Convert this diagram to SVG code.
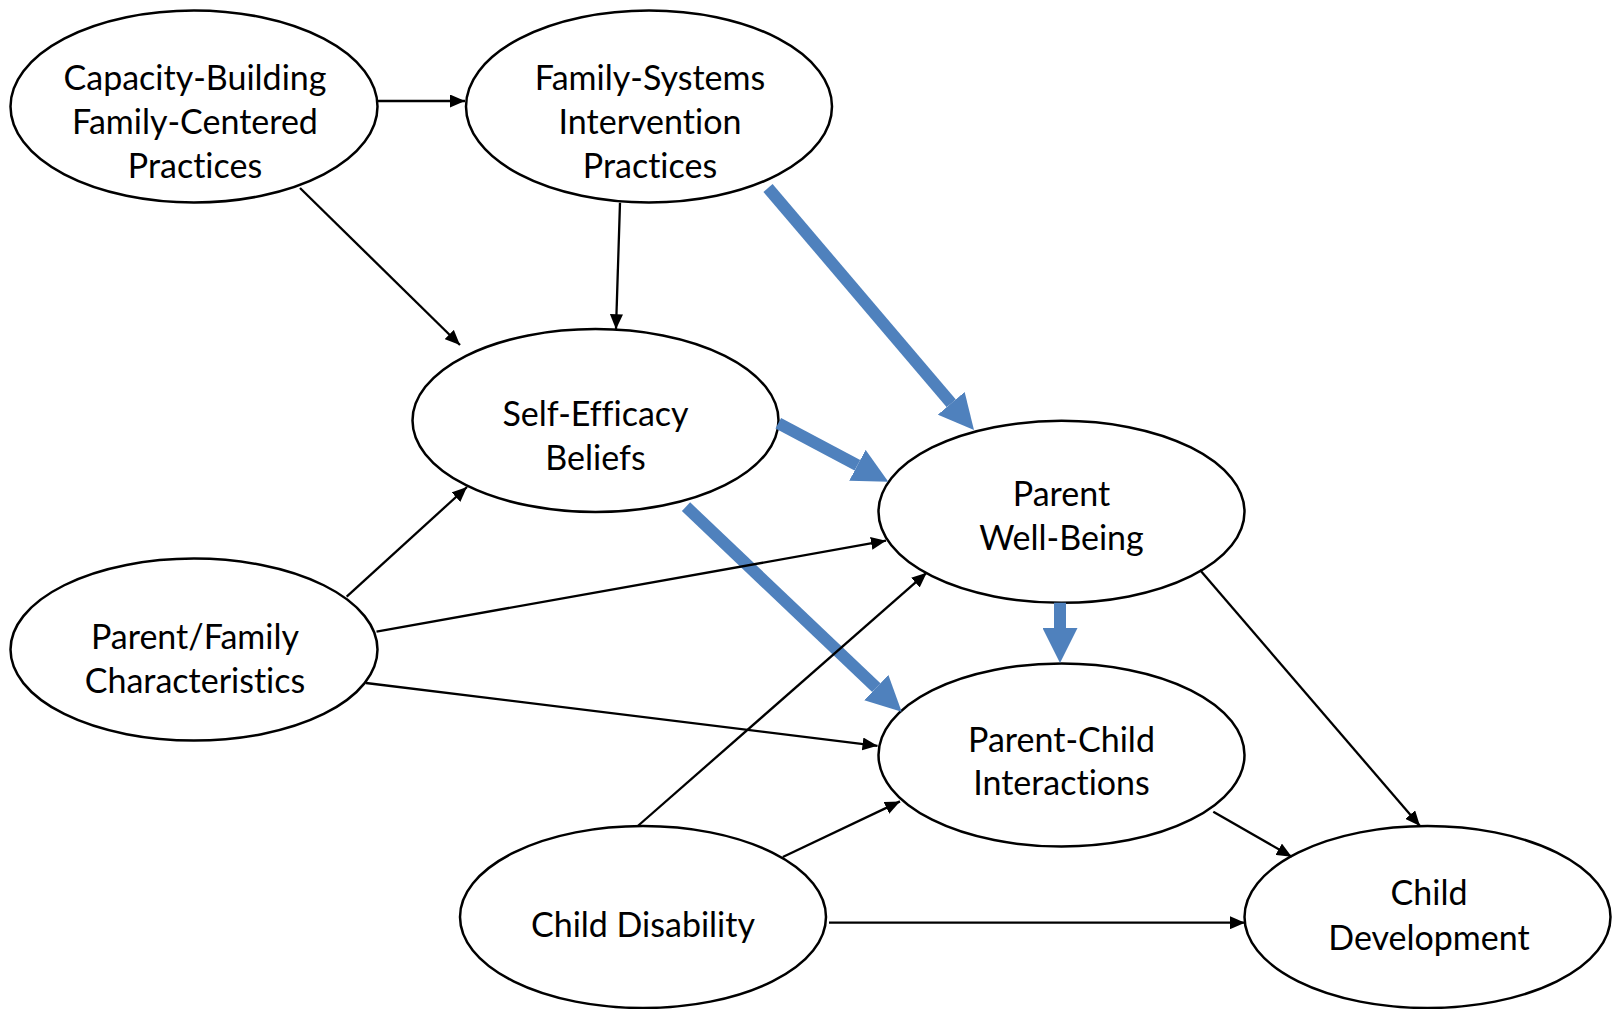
<svg xmlns="http://www.w3.org/2000/svg" width="1613" height="1009" viewBox="0 0 1613 1009">
<style>
.node ellipse{fill:#fff;stroke:#000;stroke-width:2.5}
.node text{font-family:Lato,"Liberation Sans",sans-serif;font-size:34px;fill:#000;text-anchor:middle;font-variant-ligatures:none}
.thin{stroke:#000;stroke-width:2.3;fill:none;marker-end:url(#ah)}
.thick{stroke:#4F81BD;stroke-width:12;fill:none;marker-end:url(#bh)}
</style>
<defs>
<marker id="ah" markerUnits="userSpaceOnUse" viewBox="0 0 15 13" markerWidth="15" markerHeight="13" refX="15" refY="6.5" orient="auto"><path d="M0,0 L15,6.5 L0,13 z" fill="#000"/></marker>
<marker id="bh" markerUnits="userSpaceOnUse" viewBox="0 0 35 35" markerWidth="35" markerHeight="35" refX="0" refY="17.5" orient="auto"><path d="M0,0 L35,17.5 L0,35 z" fill="#4F81BD"/></marker>
</defs>
<rect width="1613" height="1009" fill="#fff"/>
<g id="n-capacity" class="node"><ellipse cx="194" cy="106.5" rx="183.5" ry="96"/><text x="195" y="89.5">Capacity-Building</text><text x="195" y="133.5">Family-Centered</text><text x="195" y="177.5">Practices</text></g>
<g id="n-family-systems" class="node"><ellipse cx="649" cy="106.5" rx="183" ry="96"/><text x="650" y="89.5">Family-Systems</text><text x="650" y="133.5">Intervention</text><text x="650" y="177.5">Practices</text></g>
<g id="n-self-efficacy" class="node"><ellipse cx="595.5" cy="420.5" rx="183" ry="91.5"/><text x="595.5" y="425.5">Self-Efficacy</text><text x="595.5" y="469.5">Beliefs</text></g>
<g id="n-parent-wellbeing" class="node"><ellipse cx="1061.5" cy="511.8" rx="183" ry="91"/><text x="1061.5" y="505.5">Parent</text><text x="1061.5" y="549.5">Well-Being</text></g>
<g id="n-parent-family" class="node"><ellipse cx="194" cy="649.6" rx="183.5" ry="91"/><text x="195" y="648.5">Parent/Family</text><text x="195" y="693">Characteristics</text></g>
<g id="n-parent-child" class="node"><ellipse cx="1061.5" cy="755" rx="183" ry="91.5"/><text x="1061.5" y="751.5">Parent-Child</text><text x="1061.5" y="795">Interactions</text></g>
<g id="n-child-disability" class="node"><ellipse cx="643" cy="917" rx="183" ry="91"/><text x="643" y="936.5">Child Disability</text></g>
<g id="n-child-development" class="node"><ellipse cx="1427.5" cy="917" rx="183" ry="91"/><text x="1429" y="904.5">Child</text><text x="1429" y="949.5">Development</text></g>
<g id="connectors">
<line class="thick" x1="768" y1="188" x2="951.3" y2="403.3"/>
<line class="thick" x1="778.3" y1="423.3" x2="857.4" y2="465.3"/>
<line class="thick" x1="686" y1="506.7" x2="876.3" y2="687.6"/>
<line class="thick" x1="1060" y1="602.7" x2="1060" y2="628"/>
<line class="thin" x1="377.5" y1="101" x2="465" y2="101"/>
<line class="thin" x1="300" y1="188" x2="460" y2="345"/>
<line class="thin" x1="620" y1="202.7" x2="616" y2="329.3"/>
<line class="thin" x1="346.7" y1="596.6" x2="467" y2="487"/>
<line class="thin" x1="376.5" y1="631.6" x2="886" y2="540.7"/>
<line class="thin" x1="366" y1="683" x2="877.5" y2="745.8"/>
<line class="thin" x1="637.8" y1="826" x2="926.7" y2="572.7"/>
<line class="thin" x1="782.8" y1="857" x2="900" y2="801.4"/>
<line class="thin" x1="829" y1="922.7" x2="1245" y2="922.7"/>
<line class="thin" x1="1213.3" y1="811.7" x2="1291.7" y2="856.7"/>
<line class="thin" x1="1200" y1="570" x2="1420" y2="826"/>
</g>
</svg>
